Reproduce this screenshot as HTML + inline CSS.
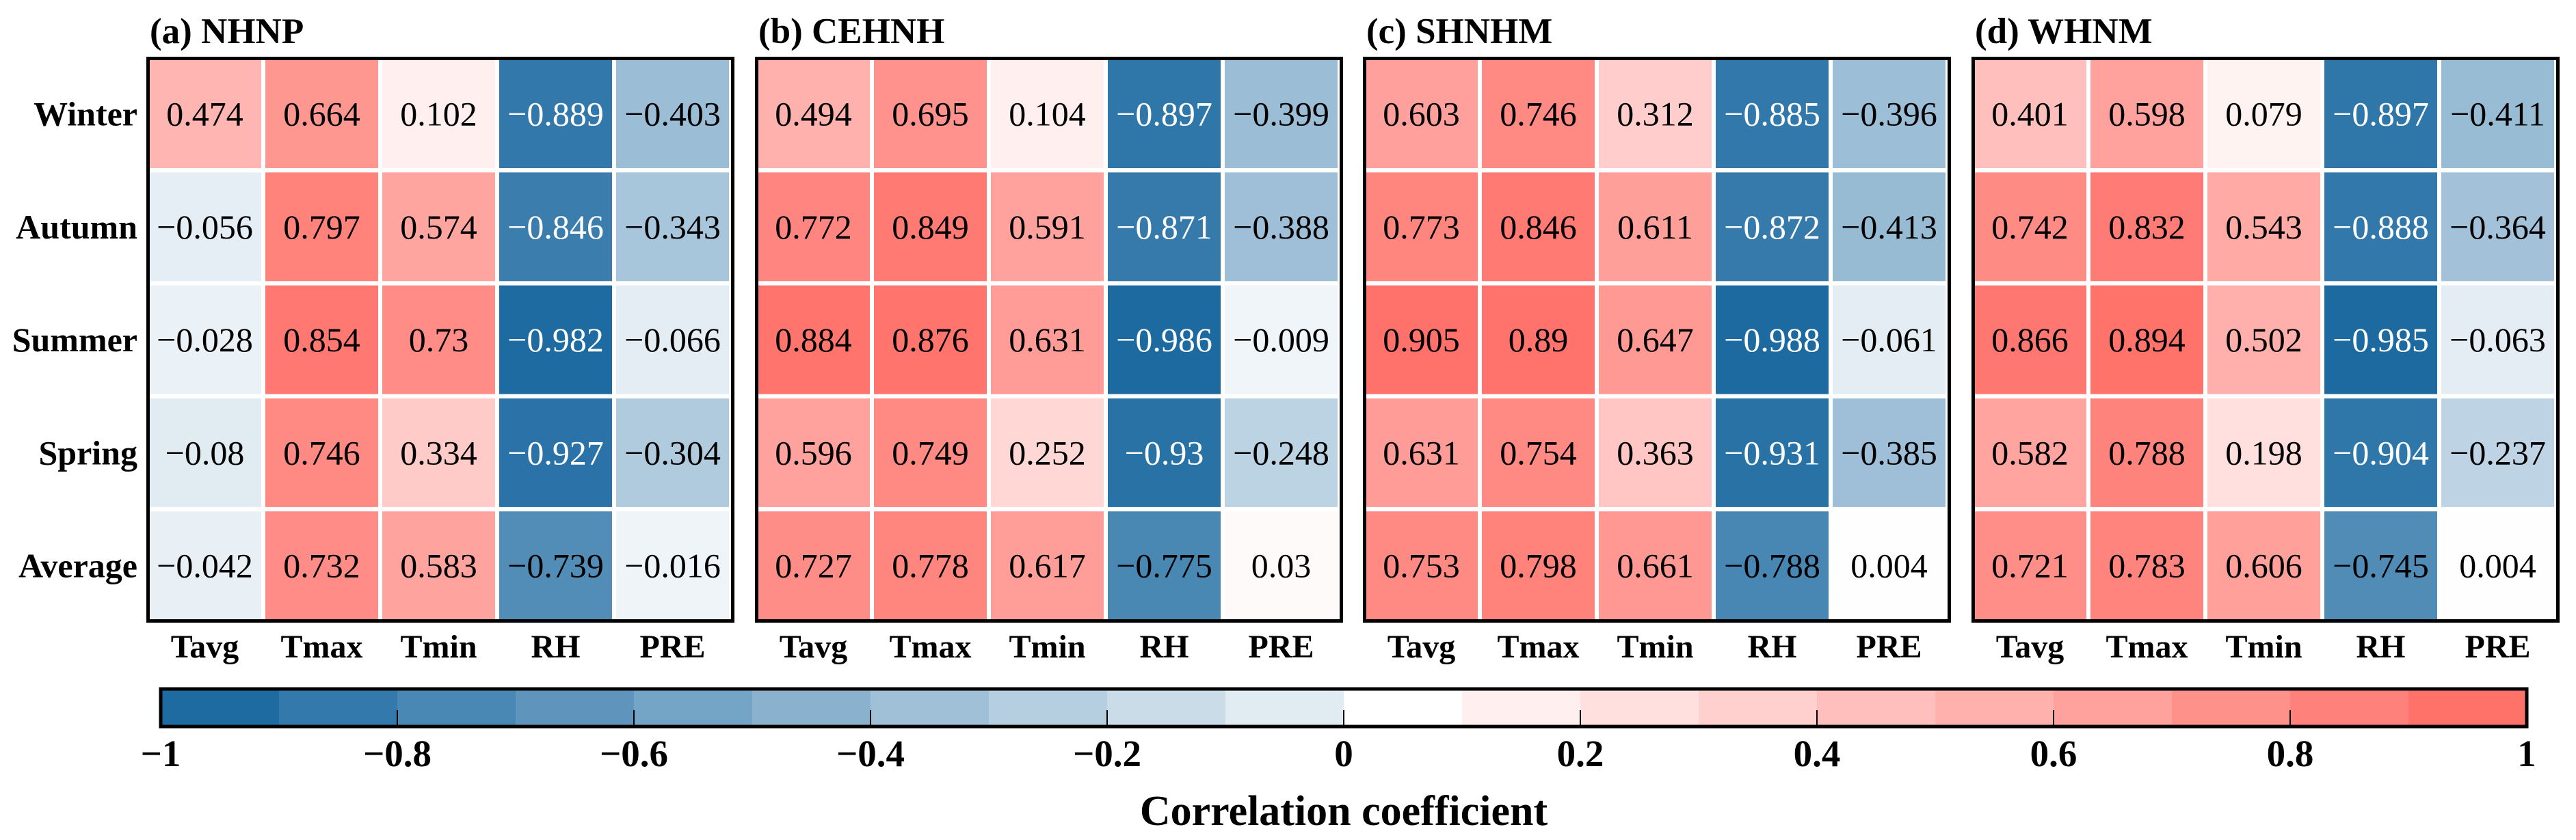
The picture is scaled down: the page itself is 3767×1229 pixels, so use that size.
<!DOCTYPE html>
<html><head><meta charset="utf-8"><style>
html,body{margin:0;padding:0;background:#fff;}
svg{display:block;font-family:"Liberation Serif","Times New Roman",serif;}
</style></head><body>
<svg id="chart" width="3767" height="1229" viewBox="0 0 3767 1229" xmlns="http://www.w3.org/2000/svg"></svg>
<script>
const panelTitles = ["(a) NHNP","(b) CEHNH","(c) SHNHM","(d) WHNM"];
const seasons = ["Winter","Autumn","Summer","Spring","Average"];
const variables = ["Tavg","Tmax","Tmin","RH","PRE"];
const valuesA = [[0.474,0.664,0.102,-0.889,-0.403],[-0.056,0.797,0.574,-0.846,-0.343],[-0.028,0.854,0.73,-0.982,-0.066],[-0.08,0.746,0.334,-0.927,-0.304],[-0.042,0.732,0.583,-0.739,-0.016]];
const valuesB = [[0.494,0.695,0.104,-0.897,-0.399],[0.772,0.849,0.591,-0.871,-0.388],[0.884,0.876,0.631,-0.986,-0.009],[0.596,0.749,0.252,-0.93,-0.248],[0.727,0.778,0.617,-0.775,0.03]];
const valuesC = [[0.603,0.746,0.312,-0.885,-0.396],[0.773,0.846,0.611,-0.872,-0.413],[0.905,0.89,0.647,-0.988,-0.061],[0.631,0.754,0.363,-0.931,-0.385],[0.753,0.798,0.661,-0.788,0.004]];
const valuesD = [[0.401,0.598,0.079,-0.897,-0.411],[0.742,0.832,0.543,-0.888,-0.364],[0.866,0.894,0.502,-0.985,-0.063],[0.582,0.788,0.198,-0.904,-0.237],[0.721,0.783,0.606,-0.745,0.004]];
const cbTicks = [-1,-0.8,-0.6,-0.4,-0.2,0,0.2,0.4,0.6,0.8,1];
const cbTickLabels = ["\u22121","\u22120.8","\u22120.6","\u22120.4","\u22120.2","0","0.2","0.4","0.6","0.8","1"];

const NS="http://www.w3.org/2000/svg";
const svg=document.getElementById('chart');
function mk(tag,attrs,parent){const e=document.createElementNS(NS,tag);for(const k in attrs)e.setAttribute(k,attrs[k]);(parent||svg).appendChild(e);return e;}
function mix(a,b,t){return 'rgb('+a.map((v,i)=>Math.round(v+(b[i]-v)*t)).join(',')+')';}
const BLUE=[26,104,160], RED=[255,98,90], WHITE=[255,255,255];
function color(v){
  v=Math.max(-1,Math.min(1,v));
  return v>=0?mix(WHITE,RED,v):mix(WHITE,BLUE,0.06+0.94*(-v));
}
function fmt(v){return (v<0?'\u2212':'')+String(Math.abs(v));}

const panels=[valuesA,valuesB,valuesC,valuesD];
const panelX=[214,1104,1993,2883];
const PW=860, PTOP=83, PBOT=911;
const rowTop=87, rowPitch=165.3, rowH=159;
const colPitch=171, colW=165;
function colX(p,j){return panelX[p]+3+j*colPitch;}
function rowY(i){return rowTop+i*rowPitch;}

panels.forEach((vals,p)=>{
  const g=mk('g',{});
  
  
  vals.forEach((row,i)=>row.forEach((v,j)=>{
    const r=mk('rect',{x:colX(p,j),y:rowY(i),width:colW,height:rowH,fill:color(v)},g);
    
    
    const t=mk('text',{x:colX(p,j)+colW/2,y:rowY(i)+rowH/2+17,'text-anchor':'middle','font-size':50,fill:v<=-0.8?'#fff':'#000'},g);
    t.textContent=fmt(v);
    
    
  }));
  const fr=mk('rect',{x:panelX[p]+2.5,y:PTOP+2.5,width:PW-5,height:PBOT-PTOP-5,fill:'none',stroke:'#000','stroke-width':5},g);
  
  
  const tt=mk('text',{x:panelX[p]+5,y:63,'font-size':53,'font-weight':'bold'},g);
  tt.textContent=panelTitles[p];
  
  
  variables.forEach((name,j)=>{
    const t=mk('text',{x:colX(p,j)+colW/2,y:962,'text-anchor':'middle','font-size':48,'font-weight':'bold'},g);
    t.textContent=name;
    
    
  });
});
seasons.forEach((s,i)=>{
  const t=mk('text',{x:201,y:rowY(i)+rowH/2+17,'text-anchor':'end','font-size':50,'font-weight':'bold'});
  t.textContent=s;
  
  
});

// colorbar
const CBL=235, CBR=3695, CBT=1008, CBB=1063;
function cbX(v){return CBL+(v+1)/2*(CBR-CBL);}
const cb=mk('g',{});


for(let k=0;k<20;k++){
  const lo=-1+k*0.1;
  const r=mk('rect',{x:cbX(lo),y:CBT,width:cbX(lo+0.1)-cbX(lo)+0.5,height:CBB-CBT,fill:color(lo<0?lo+0.02:lo)},cb);
  
  
}
cbTicks.forEach((v,i)=>{
  if(i>0&&i<cbTicks.length-1){
    const l=mk('line',{x1:cbX(v),x2:cbX(v),y1:CBB-24,y2:CBB,stroke:'#000','stroke-width':2},cb);
    
    
  }
  const t=mk('text',{x:cbX(v),y:1121,'text-anchor':'middle','font-size':55,'font-weight':'bold'},cb);
  t.textContent=cbTickLabels[i];
  
  
});
const cbf=mk('rect',{x:CBL,y:CBT,width:CBR-CBL,height:CBB-CBT,fill:'none',stroke:'#000','stroke-width':5},cb);


const ct=mk('text',{x:1965,y:1207,'text-anchor':'middle','font-size':62,'font-weight':'bold'});
ct.textContent='Correlation coefficient';


</script>
</body></html>
